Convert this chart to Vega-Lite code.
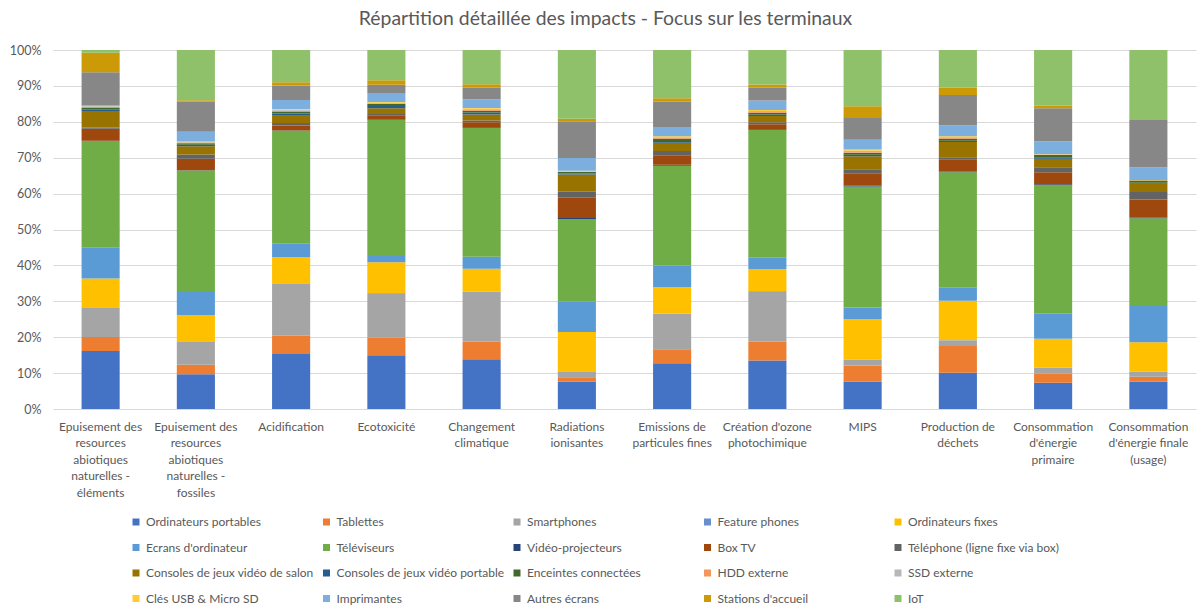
{
  "$schema": "https://vega.github.io/schema/vega-lite/v6.json",
  "width": 1143,
  "height": 359,
  "autosize": {"type": "none"},
  "padding": {"left": 53, "top": 50, "right": 6, "bottom": 206},
  "background": "white",
  "config": {"font": "Lato", "view": {"stroke": null}},
  "title": {"text": "Répartition détaillée des impacts - Focus sur les terminaux", "font": "Lato", "fontSize": 19.4, "fontWeight": "normal", "color": "#595959", "anchor": "middle", "dx": -19, "offset": 15},
  "datasets": {
    "series": [
      {"serie": "Ordinateurs portables", "rang": 1},
      {"serie": "Tablettes", "rang": 2},
      {"serie": "Smartphones", "rang": 3},
      {"serie": "Feature phones", "rang": 4},
      {"serie": "Ordinateurs fixes", "rang": 5},
      {"serie": "Ecrans d'ordinateur", "rang": 6},
      {"serie": "Téléviseurs", "rang": 7},
      {"serie": "Vidéo-projecteurs", "rang": 8},
      {"serie": "Box TV", "rang": 9},
      {"serie": "Téléphone (ligne fixe via box)", "rang": 10},
      {"serie": "Consoles de jeux vidéo de salon", "rang": 11},
      {"serie": "Consoles de jeux vidéo portable", "rang": 12},
      {"serie": "Enceintes connectées", "rang": 13},
      {"serie": "HDD externe", "rang": 14},
      {"serie": "SSD externe", "rang": 15},
      {"serie": "Clés USB & Micro SD", "rang": 16},
      {"serie": "Imprimantes", "rang": 17},
      {"serie": "Autres écrans", "rang": 18},
      {"serie": "Stations d'accueil", "rang": 19},
      {"serie": "IoT", "rang": 20}
    ],
    "impacts": [
      {"categorie": "Epuisement des|resources|abiotiques|naturelles -|éléments", "serie": "Ordinateurs portables", "part": 16.2},
      {"categorie": "Epuisement des|resources|abiotiques|naturelles -|éléments", "serie": "Tablettes", "part": 3.9},
      {"categorie": "Epuisement des|resources|abiotiques|naturelles -|éléments", "serie": "Smartphones", "part": 8.2},
      {"categorie": "Epuisement des|resources|abiotiques|naturelles -|éléments", "serie": "Feature phones", "part": 0.1},
      {"categorie": "Epuisement des|resources|abiotiques|naturelles -|éléments", "serie": "Ordinateurs fixes", "part": 8.0},
      {"categorie": "Epuisement des|resources|abiotiques|naturelles -|éléments", "serie": "Ecrans d'ordinateur", "part": 8.6},
      {"categorie": "Epuisement des|resources|abiotiques|naturelles -|éléments", "serie": "Téléviseurs", "part": 29.7},
      {"categorie": "Epuisement des|resources|abiotiques|naturelles -|éléments", "serie": "Vidéo-projecteurs", "part": 0.2},
      {"categorie": "Epuisement des|resources|abiotiques|naturelles -|éléments", "serie": "Box TV", "part": 3.3},
      {"categorie": "Epuisement des|resources|abiotiques|naturelles -|éléments", "serie": "Téléphone (ligne fixe via box)", "part": 0.4},
      {"categorie": "Epuisement des|resources|abiotiques|naturelles -|éléments", "serie": "Consoles de jeux vidéo de salon", "part": 4.6},
      {"categorie": "Epuisement des|resources|abiotiques|naturelles -|éléments", "serie": "Consoles de jeux vidéo portable", "part": 0.3},
      {"categorie": "Epuisement des|resources|abiotiques|naturelles -|éléments", "serie": "Enceintes connectées", "part": 0.5},
      {"categorie": "Epuisement des|resources|abiotiques|naturelles -|éléments", "serie": "HDD externe", "part": 0.3},
      {"categorie": "Epuisement des|resources|abiotiques|naturelles -|éléments", "serie": "SSD externe", "part": 0.1},
      {"categorie": "Epuisement des|resources|abiotiques|naturelles -|éléments", "serie": "Clés USB & Micro SD", "part": 0.1},
      {"categorie": "Epuisement des|resources|abiotiques|naturelles -|éléments", "serie": "Imprimantes", "part": 0.2},
      {"categorie": "Epuisement des|resources|abiotiques|naturelles -|éléments", "serie": "Autres écrans", "part": 9.3},
      {"categorie": "Epuisement des|resources|abiotiques|naturelles -|éléments", "serie": "Stations d'accueil", "part": 5.4},
      {"categorie": "Epuisement des|resources|abiotiques|naturelles -|éléments", "serie": "IoT", "part": 0.8},

      {"categorie": "Epuisement des|resources|abiotiques|naturelles -|fossiles", "serie": "Ordinateurs portables", "part": 9.7},
      {"categorie": "Epuisement des|resources|abiotiques|naturelles -|fossiles", "serie": "Tablettes", "part": 2.6},
      {"categorie": "Epuisement des|resources|abiotiques|naturelles -|fossiles", "serie": "Smartphones", "part": 6.5},
      {"categorie": "Epuisement des|resources|abiotiques|naturelles -|fossiles", "serie": "Feature phones", "part": 0.1},
      {"categorie": "Epuisement des|resources|abiotiques|naturelles -|fossiles", "serie": "Ordinateurs fixes", "part": 7.3},
      {"categorie": "Epuisement des|resources|abiotiques|naturelles -|fossiles", "serie": "Ecrans d'ordinateur", "part": 6.7},
      {"categorie": "Epuisement des|resources|abiotiques|naturelles -|fossiles", "serie": "Téléviseurs", "part": 33.5},
      {"categorie": "Epuisement des|resources|abiotiques|naturelles -|fossiles", "serie": "Vidéo-projecteurs", "part": 0.1},
      {"categorie": "Epuisement des|resources|abiotiques|naturelles -|fossiles", "serie": "Box TV", "part": 3.2},
      {"categorie": "Epuisement des|resources|abiotiques|naturelles -|fossiles", "serie": "Téléphone (ligne fixe via box)", "part": 1.2},
      {"categorie": "Epuisement des|resources|abiotiques|naturelles -|fossiles", "serie": "Consoles de jeux vidéo de salon", "part": 2.3},
      {"categorie": "Epuisement des|resources|abiotiques|naturelles -|fossiles", "serie": "Consoles de jeux vidéo portable", "part": 0.4},
      {"categorie": "Epuisement des|resources|abiotiques|naturelles -|fossiles", "serie": "Enceintes connectées", "part": 0.4},
      {"categorie": "Epuisement des|resources|abiotiques|naturelles -|fossiles", "serie": "HDD externe", "part": 0.1},
      {"categorie": "Epuisement des|resources|abiotiques|naturelles -|fossiles", "serie": "SSD externe", "part": 0.2},
      {"categorie": "Epuisement des|resources|abiotiques|naturelles -|fossiles", "serie": "Clés USB & Micro SD", "part": 0.2},
      {"categorie": "Epuisement des|resources|abiotiques|naturelles -|fossiles", "serie": "Imprimantes", "part": 2.7},
      {"categorie": "Epuisement des|resources|abiotiques|naturelles -|fossiles", "serie": "Autres écrans", "part": 8.4},
      {"categorie": "Epuisement des|resources|abiotiques|naturelles -|fossiles", "serie": "Stations d'accueil", "part": 0.4},
      {"categorie": "Epuisement des|resources|abiotiques|naturelles -|fossiles", "serie": "IoT", "part": 14.0},

      {"categorie": "Acidification", "serie": "Ordinateurs portables", "part": 15.3},
      {"categorie": "Acidification", "serie": "Tablettes", "part": 5.1},
      {"categorie": "Acidification", "serie": "Smartphones", "part": 14.4},
      {"categorie": "Acidification", "serie": "Feature phones", "part": 0.1},
      {"categorie": "Acidification", "serie": "Ordinateurs fixes", "part": 7.4},
      {"categorie": "Acidification", "serie": "Ecrans d'ordinateur", "part": 3.7},
      {"categorie": "Acidification", "serie": "Téléviseurs", "part": 31.4},
      {"categorie": "Acidification", "serie": "Vidéo-projecteurs", "part": 0.1},
      {"categorie": "Acidification", "serie": "Box TV", "part": 1.4},
      {"categorie": "Acidification", "serie": "Téléphone (ligne fixe via box)", "part": 0.7},
      {"categorie": "Acidification", "serie": "Consoles de jeux vidéo de salon", "part": 2.0},
      {"categorie": "Acidification", "serie": "Consoles de jeux vidéo portable", "part": 0.6},
      {"categorie": "Acidification", "serie": "Enceintes connectées", "part": 0.6},
      {"categorie": "Acidification", "serie": "HDD externe", "part": 0.2},
      {"categorie": "Acidification", "serie": "SSD externe", "part": 0.3},
      {"categorie": "Acidification", "serie": "Clés USB & Micro SD", "part": 0.2},
      {"categorie": "Acidification", "serie": "Imprimantes", "part": 2.5},
      {"categorie": "Acidification", "serie": "Autres écrans", "part": 4.0},
      {"categorie": "Acidification", "serie": "Stations d'accueil", "part": 0.9},
      {"categorie": "Acidification", "serie": "IoT", "part": 9.0},

      {"categorie": "Ecotoxicité", "serie": "Ordinateurs portables", "part": 15.0},
      {"categorie": "Ecotoxicité", "serie": "Tablettes", "part": 4.9},
      {"categorie": "Ecotoxicité", "serie": "Smartphones", "part": 12.3},
      {"categorie": "Ecotoxicité", "serie": "Feature phones", "part": 0.1},
      {"categorie": "Ecotoxicité", "serie": "Ordinateurs fixes", "part": 8.6},
      {"categorie": "Ecotoxicité", "serie": "Ecrans d'ordinateur", "part": 2.0},
      {"categorie": "Ecotoxicité", "serie": "Téléviseurs", "part": 37.6},
      {"categorie": "Ecotoxicité", "serie": "Vidéo-projecteurs", "part": 0.1},
      {"categorie": "Ecotoxicité", "serie": "Box TV", "part": 1.2},
      {"categorie": "Ecotoxicité", "serie": "Téléphone (ligne fixe via box)", "part": 0.4},
      {"categorie": "Ecotoxicité", "serie": "Consoles de jeux vidéo de salon", "part": 1.6},
      {"categorie": "Ecotoxicité", "serie": "Consoles de jeux vidéo portable", "part": 0.6},
      {"categorie": "Ecotoxicité", "serie": "Enceintes connectées", "part": 0.6},
      {"categorie": "Ecotoxicité", "serie": "HDD externe", "part": 0.1},
      {"categorie": "Ecotoxicité", "serie": "SSD externe", "part": 0.2},
      {"categorie": "Ecotoxicité", "serie": "Clés USB & Micro SD", "part": 0.2},
      {"categorie": "Ecotoxicité", "serie": "Imprimantes", "part": 2.5},
      {"categorie": "Ecotoxicité", "serie": "Autres écrans", "part": 2.3},
      {"categorie": "Ecotoxicité", "serie": "Stations d'accueil", "part": 1.3},
      {"categorie": "Ecotoxicité", "serie": "IoT", "part": 8.4},

      {"categorie": "Changement|climatique", "serie": "Ordinateurs portables", "part": 13.8},
      {"categorie": "Changement|climatique", "serie": "Tablettes", "part": 4.9},
      {"categorie": "Changement|climatique", "serie": "Smartphones", "part": 13.8},
      {"categorie": "Changement|climatique", "serie": "Feature phones", "part": 0.1},
      {"categorie": "Changement|climatique", "serie": "Ordinateurs fixes", "part": 6.4},
      {"categorie": "Changement|climatique", "serie": "Ecrans d'ordinateur", "part": 3.3},
      {"categorie": "Changement|climatique", "serie": "Téléviseurs", "part": 35.8},
      {"categorie": "Changement|climatique", "serie": "Vidéo-projecteurs", "part": 0.2},
      {"categorie": "Changement|climatique", "serie": "Box TV", "part": 1.4},
      {"categorie": "Changement|climatique", "serie": "Téléphone (ligne fixe via box)", "part": 0.5},
      {"categorie": "Changement|climatique", "serie": "Consoles de jeux vidéo de salon", "part": 1.7},
      {"categorie": "Changement|climatique", "serie": "Consoles de jeux vidéo portable", "part": 0.5},
      {"categorie": "Changement|climatique", "serie": "Enceintes connectées", "part": 0.5},
      {"categorie": "Changement|climatique", "serie": "HDD externe", "part": 0.3},
      {"categorie": "Changement|climatique", "serie": "SSD externe", "part": 0.3},
      {"categorie": "Changement|climatique", "serie": "Clés USB & Micro SD", "part": 0.2},
      {"categorie": "Changement|climatique", "serie": "Imprimantes", "part": 2.4},
      {"categorie": "Changement|climatique", "serie": "Autres écrans", "part": 3.2},
      {"categorie": "Changement|climatique", "serie": "Stations d'accueil", "part": 1.0},
      {"categorie": "Changement|climatique", "serie": "IoT", "part": 9.5},

      {"categorie": "Radiations|ionisantes", "serie": "Ordinateurs portables", "part": 7.6},
      {"categorie": "Radiations|ionisantes", "serie": "Tablettes", "part": 1.2},
      {"categorie": "Radiations|ionisantes", "serie": "Smartphones", "part": 1.6},
      {"categorie": "Radiations|ionisantes", "serie": "Feature phones", "part": 0.1},
      {"categorie": "Radiations|ionisantes", "serie": "Ordinateurs fixes", "part": 10.9},
      {"categorie": "Radiations|ionisantes", "serie": "Ecrans d'ordinateur", "part": 8.4},
      {"categorie": "Radiations|ionisantes", "serie": "Téléviseurs", "part": 23.0},
      {"categorie": "Radiations|ionisantes", "serie": "Vidéo-projecteurs", "part": 0.3},
      {"categorie": "Radiations|ionisantes", "serie": "Box TV", "part": 5.6},
      {"categorie": "Radiations|ionisantes", "serie": "Téléphone (ligne fixe via box)", "part": 1.7},
      {"categorie": "Radiations|ionisantes", "serie": "Consoles de jeux vidéo de salon", "part": 4.8},
      {"categorie": "Radiations|ionisantes", "serie": "Consoles de jeux vidéo portable", "part": 0.3},
      {"categorie": "Radiations|ionisantes", "serie": "Enceintes connectées", "part": 0.4},
      {"categorie": "Radiations|ionisantes", "serie": "HDD externe", "part": 0.1},
      {"categorie": "Radiations|ionisantes", "serie": "SSD externe", "part": 0.1},
      {"categorie": "Radiations|ionisantes", "serie": "Clés USB & Micro SD", "part": 0.1},
      {"categorie": "Radiations|ionisantes", "serie": "Imprimantes", "part": 3.6},
      {"categorie": "Radiations|ionisantes", "serie": "Autres écrans", "part": 10.2},
      {"categorie": "Radiations|ionisantes", "serie": "Stations d'accueil", "part": 0.7},
      {"categorie": "Radiations|ionisantes", "serie": "IoT", "part": 19.1},

      {"categorie": "Emissions de|particules fines", "serie": "Ordinateurs portables", "part": 12.7},
      {"categorie": "Emissions de|particules fines", "serie": "Tablettes", "part": 3.9},
      {"categorie": "Emissions de|particules fines", "serie": "Smartphones", "part": 9.9},
      {"categorie": "Emissions de|particules fines", "serie": "Feature phones", "part": 0.1},
      {"categorie": "Emissions de|particules fines", "serie": "Ordinateurs fixes", "part": 7.3},
      {"categorie": "Emissions de|particules fines", "serie": "Ecrans d'ordinateur", "part": 6.0},
      {"categorie": "Emissions de|particules fines", "serie": "Téléviseurs", "part": 27.8},
      {"categorie": "Emissions de|particules fines", "serie": "Vidéo-projecteurs", "part": 0.3},
      {"categorie": "Emissions de|particules fines", "serie": "Box TV", "part": 2.6},
      {"categorie": "Emissions de|particules fines", "serie": "Téléphone (ligne fixe via box)", "part": 1.2},
      {"categorie": "Emissions de|particules fines", "serie": "Consoles de jeux vidéo de salon", "part": 2.3},
      {"categorie": "Emissions de|particules fines", "serie": "Consoles de jeux vidéo portable", "part": 0.5},
      {"categorie": "Emissions de|particules fines", "serie": "Enceintes connectées", "part": 0.6},
      {"categorie": "Emissions de|particules fines", "serie": "HDD externe", "part": 0.2},
      {"categorie": "Emissions de|particules fines", "serie": "SSD externe", "part": 0.2},
      {"categorie": "Emissions de|particules fines", "serie": "Clés USB & Micro SD", "part": 0.3},
      {"categorie": "Emissions de|particules fines", "serie": "Imprimantes", "part": 2.6},
      {"categorie": "Emissions de|particules fines", "serie": "Autres écrans", "part": 7.0},
      {"categorie": "Emissions de|particules fines", "serie": "Stations d'accueil", "part": 1.0},
      {"categorie": "Emissions de|particules fines", "serie": "IoT", "part": 13.4},

      {"categorie": "Création d'ozone|photochimique", "serie": "Ordinateurs portables", "part": 13.5},
      {"categorie": "Création d'ozone|photochimique", "serie": "Tablettes", "part": 5.2},
      {"categorie": "Création d'ozone|photochimique", "serie": "Smartphones", "part": 14.1},
      {"categorie": "Création d'ozone|photochimique", "serie": "Feature phones", "part": 0.1},
      {"categorie": "Création d'ozone|photochimique", "serie": "Ordinateurs fixes", "part": 6.1},
      {"categorie": "Création d'ozone|photochimique", "serie": "Ecrans d'ordinateur", "part": 3.3},
      {"categorie": "Création d'ozone|photochimique", "serie": "Téléviseurs", "part": 35.4},
      {"categorie": "Création d'ozone|photochimique", "serie": "Vidéo-projecteurs", "part": 0.2},
      {"categorie": "Création d'ozone|photochimique", "serie": "Box TV", "part": 1.4},
      {"categorie": "Création d'ozone|photochimique", "serie": "Téléphone (ligne fixe via box)", "part": 0.6},
      {"categorie": "Création d'ozone|photochimique", "serie": "Consoles de jeux vidéo de salon", "part": 1.7},
      {"categorie": "Création d'ozone|photochimique", "serie": "Consoles de jeux vidéo portable", "part": 0.4},
      {"categorie": "Création d'ozone|photochimique", "serie": "Enceintes connectées", "part": 0.5},
      {"categorie": "Création d'ozone|photochimique", "serie": "HDD externe", "part": 0.2},
      {"categorie": "Création d'ozone|photochimique", "serie": "SSD externe", "part": 0.3},
      {"categorie": "Création d'ozone|photochimique", "serie": "Clés USB & Micro SD", "part": 0.3},
      {"categorie": "Création d'ozone|photochimique", "serie": "Imprimantes", "part": 2.6},
      {"categorie": "Création d'ozone|photochimique", "serie": "Autres écrans", "part": 3.6},
      {"categorie": "Création d'ozone|photochimique", "serie": "Stations d'accueil", "part": 0.9},
      {"categorie": "Création d'ozone|photochimique", "serie": "IoT", "part": 9.6},

      {"categorie": "MIPS", "serie": "Ordinateurs portables", "part": 7.6},
      {"categorie": "MIPS", "serie": "Tablettes", "part": 4.5},
      {"categorie": "MIPS", "serie": "Smartphones", "part": 1.5},
      {"categorie": "MIPS", "serie": "Feature phones", "part": 0.1},
      {"categorie": "MIPS", "serie": "Ordinateurs fixes", "part": 11.3},
      {"categorie": "MIPS", "serie": "Ecrans d'ordinateur", "part": 3.2},
      {"categorie": "MIPS", "serie": "Téléviseurs", "part": 33.6},
      {"categorie": "MIPS", "serie": "Vidéo-projecteurs", "part": 0.2},
      {"categorie": "MIPS", "serie": "Box TV", "part": 3.5},
      {"categorie": "MIPS", "serie": "Téléphone (ligne fixe via box)", "part": 1.1},
      {"categorie": "MIPS", "serie": "Consoles de jeux vidéo de salon", "part": 3.6},
      {"categorie": "MIPS", "serie": "Consoles de jeux vidéo portable", "part": 0.4},
      {"categorie": "MIPS", "serie": "Enceintes connectées", "part": 0.5},
      {"categorie": "MIPS", "serie": "HDD externe", "part": 0.2},
      {"categorie": "MIPS", "serie": "SSD externe", "part": 0.4},
      {"categorie": "MIPS", "serie": "Clés USB & Micro SD", "part": 0.4},
      {"categorie": "MIPS", "serie": "Imprimantes", "part": 2.7},
      {"categorie": "MIPS", "serie": "Autres écrans", "part": 6.0},
      {"categorie": "MIPS", "serie": "Stations d'accueil", "part": 3.3},
      {"categorie": "MIPS", "serie": "IoT", "part": 15.6},

      {"categorie": "Production de|déchets", "serie": "Ordinateurs portables", "part": 10.1},
      {"categorie": "Production de|déchets", "serie": "Tablettes", "part": 7.4},
      {"categorie": "Production de|déchets", "serie": "Smartphones", "part": 1.5},
      {"categorie": "Production de|déchets", "serie": "Feature phones", "part": 0.1},
      {"categorie": "Production de|déchets", "serie": "Ordinateurs fixes", "part": 11.0},
      {"categorie": "Production de|déchets", "serie": "Ecrans d'ordinateur", "part": 3.6},
      {"categorie": "Production de|déchets", "serie": "Téléviseurs", "part": 32.1},
      {"categorie": "Production de|déchets", "serie": "Vidéo-projecteurs", "part": 0.2},
      {"categorie": "Production de|déchets", "serie": "Box TV", "part": 3.4},
      {"categorie": "Production de|déchets", "serie": "Téléphone (ligne fixe via box)", "part": 0.6},
      {"categorie": "Production de|déchets", "serie": "Consoles de jeux vidéo de salon", "part": 4.2},
      {"categorie": "Production de|déchets", "serie": "Consoles de jeux vidéo portable", "part": 0.4},
      {"categorie": "Production de|déchets", "serie": "Enceintes connectées", "part": 0.5},
      {"categorie": "Production de|déchets", "serie": "HDD externe", "part": 0.3},
      {"categorie": "Production de|déchets", "serie": "SSD externe", "part": 0.2},
      {"categorie": "Production de|déchets", "serie": "Clés USB & Micro SD", "part": 0.2},
      {"categorie": "Production de|déchets", "serie": "Imprimantes", "part": 3.0},
      {"categorie": "Production de|déchets", "serie": "Autres écrans", "part": 8.5},
      {"categorie": "Production de|déchets", "serie": "Stations d'accueil", "part": 2.0},
      {"categorie": "Production de|déchets", "serie": "IoT", "part": 10.5},

      {"categorie": "Consommation|d'énergie|primaire", "serie": "Ordinateurs portables", "part": 7.3},
      {"categorie": "Consommation|d'énergie|primaire", "serie": "Tablettes", "part": 2.6},
      {"categorie": "Consommation|d'énergie|primaire", "serie": "Smartphones", "part": 1.5},
      {"categorie": "Consommation|d'énergie|primaire", "serie": "Feature phones", "part": 0.1},
      {"categorie": "Consommation|d'énergie|primaire", "serie": "Ordinateurs fixes", "part": 8.0},
      {"categorie": "Consommation|d'énergie|primaire", "serie": "Ecrans d'ordinateur", "part": 7.0},
      {"categorie": "Consommation|d'énergie|primaire", "serie": "Téléviseurs", "part": 35.7},
      {"categorie": "Consommation|d'énergie|primaire", "serie": "Vidéo-projecteurs", "part": 0.3},
      {"categorie": "Consommation|d'énergie|primaire", "serie": "Box TV", "part": 3.3},
      {"categorie": "Consommation|d'énergie|primaire", "serie": "Téléphone (ligne fixe via box)", "part": 1.4},
      {"categorie": "Consommation|d'énergie|primaire", "serie": "Consoles de jeux vidéo de salon", "part": 2.4},
      {"categorie": "Consommation|d'énergie|primaire", "serie": "Consoles de jeux vidéo portable", "part": 0.4},
      {"categorie": "Consommation|d'énergie|primaire", "serie": "Enceintes connectées", "part": 0.6},
      {"categorie": "Consommation|d'énergie|primaire", "serie": "HDD externe", "part": 0.1},
      {"categorie": "Consommation|d'énergie|primaire", "serie": "SSD externe", "part": 0.1},
      {"categorie": "Consommation|d'énergie|primaire", "serie": "Clés USB & Micro SD", "part": 0.1},
      {"categorie": "Consommation|d'énergie|primaire", "serie": "Imprimantes", "part": 3.5},
      {"categorie": "Consommation|d'énergie|primaire", "serie": "Autres écrans", "part": 9.2},
      {"categorie": "Consommation|d'énergie|primaire", "serie": "Stations d'accueil", "part": 0.7},
      {"categorie": "Consommation|d'énergie|primaire", "serie": "IoT", "part": 15.5},

      {"categorie": "Consommation|d'énergie finale|(usage)", "serie": "Ordinateurs portables", "part": 7.6},
      {"categorie": "Consommation|d'énergie finale|(usage)", "serie": "Tablettes", "part": 1.4},
      {"categorie": "Consommation|d'énergie finale|(usage)", "serie": "Smartphones", "part": 1.3},
      {"categorie": "Consommation|d'énergie finale|(usage)", "serie": "Feature phones", "part": 0.1},
      {"categorie": "Consommation|d'énergie finale|(usage)", "serie": "Ordinateurs fixes", "part": 8.2},
      {"categorie": "Consommation|d'énergie finale|(usage)", "serie": "Ecrans d'ordinateur", "part": 10.1},
      {"categorie": "Consommation|d'énergie finale|(usage)", "serie": "Téléviseurs", "part": 24.5},
      {"categorie": "Consommation|d'énergie finale|(usage)", "serie": "Vidéo-projecteurs", "part": 0.1},
      {"categorie": "Consommation|d'énergie finale|(usage)", "serie": "Box TV", "part": 5.1},
      {"categorie": "Consommation|d'énergie finale|(usage)", "serie": "Téléphone (ligne fixe via box)", "part": 2.1},
      {"categorie": "Consommation|d'énergie finale|(usage)", "serie": "Consoles de jeux vidéo de salon", "part": 2.3},
      {"categorie": "Consommation|d'énergie finale|(usage)", "serie": "Consoles de jeux vidéo portable", "part": 0.3},
      {"categorie": "Consommation|d'énergie finale|(usage)", "serie": "Enceintes connectées", "part": 0.6},
      {"categorie": "Consommation|d'énergie finale|(usage)", "serie": "HDD externe", "part": 0.05},
      {"categorie": "Consommation|d'énergie finale|(usage)", "serie": "SSD externe", "part": 0.05},
      {"categorie": "Consommation|d'énergie finale|(usage)", "serie": "Clés USB & Micro SD", "part": 0.05},
      {"categorie": "Consommation|d'énergie finale|(usage)", "serie": "Imprimantes", "part": 3.5},
      {"categorie": "Consommation|d'énergie finale|(usage)", "serie": "Autres écrans", "part": 13.2},
      {"categorie": "Consommation|d'énergie finale|(usage)", "serie": "Stations d'accueil", "part": 0.05},
      {"categorie": "Consommation|d'énergie finale|(usage)", "serie": "IoT", "part": 19.5}
    ]
  },
  "data": {"name": "impacts"},
  "transform": [
    {"lookup": "serie", "from": {"data": {"name": "series"}, "key": "serie", "fields": ["rang"]}}
  ],
  "mark": {"type": "bar"},
  "encoding": {
    "x": {
      "field": "categorie", "type": "nominal", "sort": null,
      "scale": {"paddingInner": 0.6, "paddingOuter": 0.3},
      "axis": {"title": null, "labelAngle": 0, "domain": false, "ticks": false, "grid": false, "labelPadding": 12, "labelExpr": "split(datum.label, '|')", "labelLineHeight": 16.5, "labelFontSize": 12, "labelColor": "#595959", "labelLimit": 200, "labelBaseline": "top"}
    },
    "y": {
      "field": "part", "type": "quantitative", "stack": "normalize",
      "scale": {"domain": [0, 1]},
      "axis": {"title": null, "values": [0, 0.1, 0.2, 0.3, 0.4, 0.5, 0.6, 0.7, 0.8, 0.9, 1], "format": ".0%", "domain": false, "ticks": false, "gridColor": "#D9D9D9", "gridWidth": 1, "labelPadding": 12, "labelFontSize": 12.5, "labelColor": "#595959"}
    },
    "color": {
      "field": "serie", "type": "nominal",
      "scale": {
        "domain": ["Ordinateurs portables", "Tablettes", "Smartphones", "Feature phones", "Ordinateurs fixes", "Ecrans d'ordinateur", "Téléviseurs", "Vidéo-projecteurs", "Box TV", "Téléphone (ligne fixe via box)", "Consoles de jeux vidéo de salon", "Consoles de jeux vidéo portable", "Enceintes connectées", "HDD externe", "SSD externe", "Clés USB & Micro SD", "Imprimantes", "Autres écrans", "Stations d'accueil", "IoT"],
        "range": ["#4472C4", "#ED7D31", "#A5A5A5", "#698ED0", "#FFC000", "#5B9BD5", "#70AD47", "#264478", "#9E480E", "#636363", "#997300", "#255E91", "#43682B", "#F1975A", "#B7B7B7", "#FFCD33", "#7CAFDD", "#878787", "#CC9A06", "#8FC16A"]
      },
      "legend": {"title": null, "orient": "none", "legendX": 77, "legendY": 466, "direction": "horizontal", "columns": 5, "gridAlign": "all", "symbolType": "square", "symbolSize": 49, "symbolStrokeWidth": 0, "labelFontSize": 12, "labelColor": "#595959", "labelOffset": 4, "rowPadding": 13.5, "columnPadding": 6.5, "padding": 0, "labelLimit": 250}
    },
    "order": {"field": "rang", "type": "quantitative", "sort": "ascending"}
  }
}
